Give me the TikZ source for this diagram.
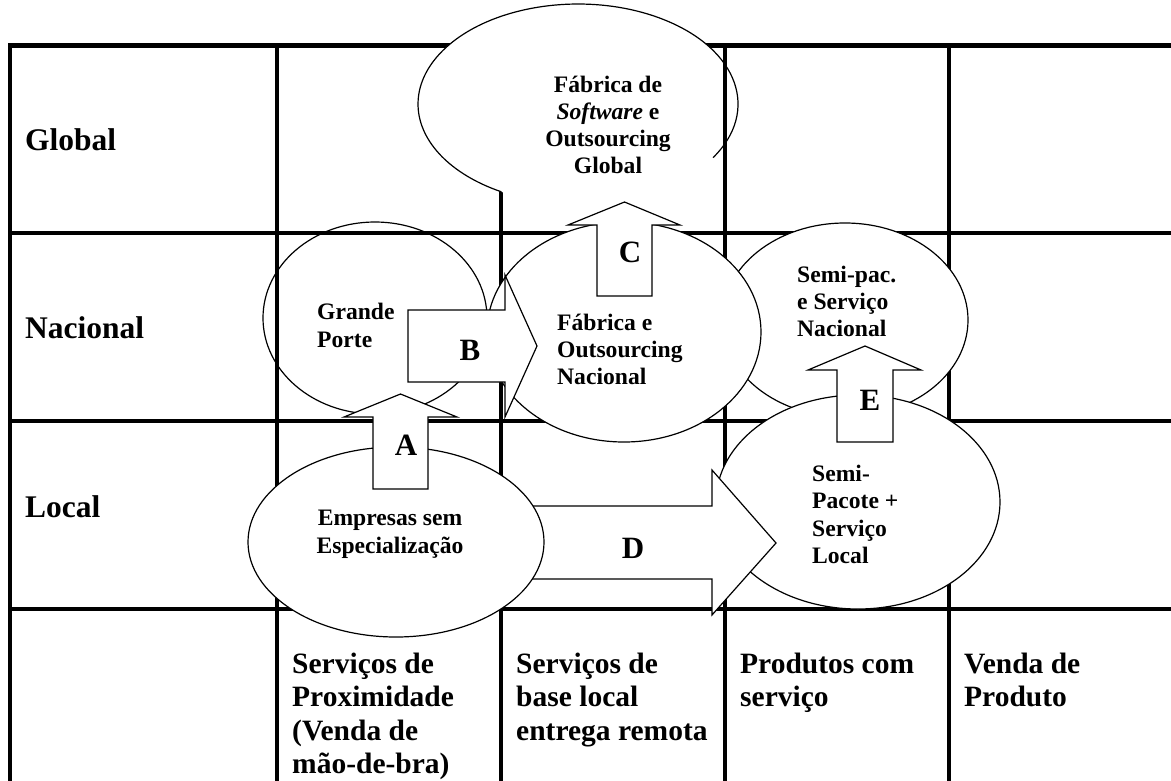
\documentclass[tikz,border=0pt]{standalone}
\usepackage{fontspec}
\setmainfont{Liberation Serif}
\usetikzlibrary{shapes.geometric}
\begin{document}
\begin{tikzpicture}[x=1pt,y=-1pt,
  gridline/.style={line width=4.5pt, line cap=rect},
  ell/.style={ellipse, draw, line width=1.2pt, fill=white, inner sep=0pt, outer sep=0pt},
  eline/.style={line width=1.2pt},
  blockarrow/.style={draw, fill=white, line width=1.2pt, line join=miter},
  rowlab/.style={anchor=base west, inner sep=0pt, font=\fontsize{31.5}{34}\selectfont\bfseries},
  collab/.style={anchor=base west, inner sep=0pt, font=\fontsize{29.5}{33.5}\selectfont\bfseries},
  etxtL/.style={anchor=base west, inner sep=0pt, font=\fontsize{23.6}{27}\selectfont\bfseries},
  etxtC/.style={anchor=base, inner sep=0pt, font=\fontsize{23.6}{27}\selectfont\bfseries},
  letter/.style={inner sep=0pt, font=\fontsize{31}{34}\selectfont\bfseries}]
\fill[white] (0,0) rectangle (1171,780);
\useasboundingbox (0,0) rectangle (1171,780);

% grid
\draw[gridline] (10,780) -- (10,45.5) -- (1171,45.5);
\draw[gridline] (10,233) -- (1171,233);
\draw[gridline] (10,421) -- (1171,421);
\draw[gridline] (10,609) -- (1171,609);
\draw[gridline] (277,45.5) -- (277,780);
\draw[gridline] (501,45.5) -- (501,780);
\draw[gridline] (725,45.5) -- (725,780);
\draw[gridline] (949,45.5) -- (949,780);

% global ellipse (open at the bottom)
\node[ell, draw=none, minimum width=320pt, minimum height=200pt] (glob) at (578,104) {};
\draw[eline] (713.1,157.6) arc[start angle=32.4, end angle=-241.4, x radius=160, y radius=100];
\draw[gridline] (725,45.5) -- (725,233);

% grande porte (no fill)
\node[ell, fill=none, minimum width=224pt, minimum height=192pt] (grande) at (375,318) {};
% semi-pac nacional
\node[ell, minimum width=246pt, minimum height=194pt] (semipac) at (845,320) {};
% fabrica nacional
\node[ell, minimum width=274pt, minimum height=220pt] (fabnac) at (624,332) {};
% semi-pacote local
\node[ell, minimum width=284pt, minimum height=214pt] (semipacote) at (858,502) {};

% arrow D
\draw[blockarrow] (460,506) -- (712,506) -- (712,470) -- (776,543) -- (712,615) -- (712,579) -- (460,579) -- cycle;

% empresas
\node[ell, minimum width=296pt, minimum height=190pt] (empresas) at (396,542) {};

% arrows A, B, C, E
\draw[blockarrow] (373,489) -- (373,417) -- (344,417) -- (400.5,394) -- (457,417) -- (428,417) -- (428,489) -- cycle;
\draw[blockarrow] (408,310) -- (505,310) -- (505,275) -- (537,346) -- (505,417) -- (505,382) -- (408,382) -- cycle;
\draw[blockarrow] (597,296) -- (597,225) -- (568,225) -- (624.5,202) -- (680,225) -- (652,225) -- (652,296) -- cycle;
\draw[blockarrow] (837,442) -- (837,370) -- (808,370) -- (865,346) -- (921,370) -- (893,370) -- (893,442) -- cycle;

% arrow letters
\node[letter] (lA) at (406,445) {A};
\node[letter] (lB) at (470,350) {B};
\node[letter] (lC) at (630,252) {C};
\node[letter] (lD) at (633,548) {D};
\node[letter] (lE) at (870,400) {E};

% row labels
\node[rowlab] (rGlobal) at (25,150) {Global};
\node[rowlab] (rNacional) at (25,338) {Nacional};
\node[rowlab] (rLocal) at (25,517) {Local};

% column labels
\node[collab] (c2a) at (292,673) {Serviços de};
\node[collab] (c2b) at (292,706.5) {Proximidade};
\node[collab] (c2c) at (292,740) {(Venda de};
\node[collab] (c2d) at (292,773.5) {mão-de-bra)};
\node[collab] (c3a) at (516,673) {Serviços de};
\node[collab] (c3b) at (516,706.5) {base local};
\node[collab] (c3c) at (516,740) {entrega remota};
\node[collab] (c4a) at (740,673) {Produtos com};
\node[collab] (c4b) at (740,706.5) {serviço};
\node[collab] (c5a) at (964,673) {Venda de};
\node[collab] (c5b) at (964,706.5) {Produto};

% ellipse texts
\node[etxtC] (g1) at (608,92) {Fábrica de};
\node[etxtC] (g2) at (608,119) {\textit{Software} e};
\node[etxtC] (g3) at (608,146) {Outsourcing};
\node[etxtC] (g4) at (608,173) {Global};

\node[etxtL] (gp1) at (317,319) {Grande};
\node[etxtL] (gp2) at (317,347) {Porte};

\node[etxtL] (fn1) at (557,330) {Fábrica e};
\node[etxtL] (fn2) at (557,357) {Outsourcing};
\node[etxtL] (fn3) at (557,384) {Nacional};

\node[etxtL] (sn1) at (797,282) {Semi-pac.};
\node[etxtL] (sn2) at (797,309) {e Serviço};
\node[etxtL] (sn3) at (797,336) {Nacional};

\node[etxtL] (sl1) at (812,481) {Semi-};
\node[etxtL] (sl2) at (812,508) {Pacote +};
\node[etxtL] (sl3) at (812,536) {Serviço};
\node[etxtL] (sl4) at (812,563) {Local};

\node[etxtC] (em1) at (390,525) {Empresas sem};
\node[etxtC] (em2) at (390,553) {Especialização};
\end{tikzpicture}
\end{document}
